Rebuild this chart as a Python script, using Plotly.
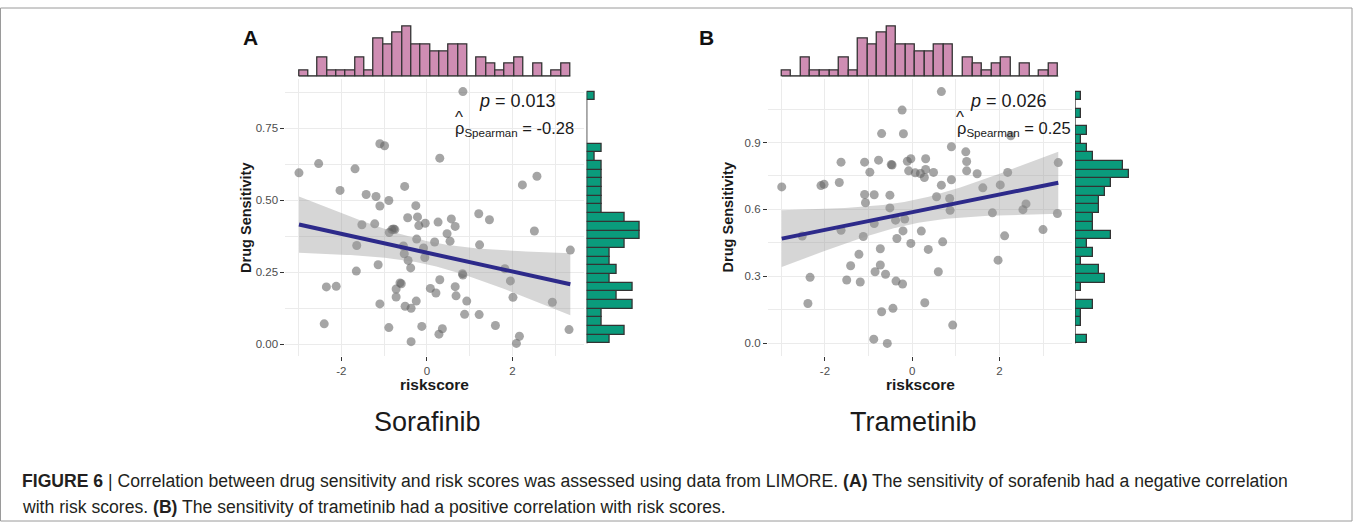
import numpy as np
import plotly.graph_objects as go

W, H = 1355, 523

# ---------------- data ----------------
riskscore_A = [0.84, -2.99, -2.53, -1.68, -1.10, -0.99, 0.30, -2.03, -1.42, -1.19, -1.10, -0.89, -0.52,
               -0.26, -0.45, -0.22, -0.19, -0.04, 0.26, 0.57, 0.66, 1.21, 1.46, 2.23, 2.57, 2.51, -1.52,
               -1.22, -0.82, -0.75, -0.88, -0.24, 0.18, 0.47, 0.54, -1.64, -0.55, -0.08, 1.23, -0.53,
               -0.44, -0.05, 3.35, -1.14, -1.65, -0.38, 0.83, 1.82, 0.30, -2.35, -2.12, -0.63, -0.72,
               0.08, 0.21, 0.66, 1.95, -0.72, 0.68, -1.10, -0.25, 0.93, 2.01, -0.51, -0.37, 2.93, 0.88,
               1.22, -2.40, -0.89, -0.12, 0.36, 0.28, 1.60, 2.16, 2.09, 3.32, -0.37, -0.78, 0.84, -0.60]
sensitivity_A = [0.877, 0.595, 0.627, 0.609, 0.696, 0.689, 0.646, 0.534, 0.520, 0.513, 0.480, 0.499, 0.548,
                 0.481, 0.439, 0.442, 0.412, 0.420, 0.424, 0.435, 0.409, 0.453, 0.432, 0.553, 0.583, 0.393,
                 0.415, 0.418, 0.398, 0.398, 0.388, 0.365, 0.355, 0.384, 0.358, 0.343, 0.341, 0.334, 0.345,
                 0.314, 0.291, 0.301, 0.327, 0.276, 0.254, 0.265, 0.245, 0.262, 0.224, 0.199, 0.201, 0.213,
                 0.192, 0.194, 0.178, 0.200, 0.220, 0.164, 0.168, 0.140, 0.150, 0.150, 0.163, 0.132, 0.125,
                 0.146, 0.104, 0.103, 0.071, 0.058, 0.062, 0.054, 0.035, 0.065, 0.028, 0.003, 0.051, 0.009,
                 0.400, 0.240, 0.210]

riskscore_B = [0.67, -0.23, -0.70, -0.20, 2.26, 0.90, 1.23, -1.63, -1.09, -0.77, -0.46, -0.48, -0.11, -0.03,
               0.31, 1.25, 3.35, -0.97, -0.08, 0.07, 0.19, 0.31, 0.49, 0.28, 1.25, 1.49, 2.19, -2.99, -2.09,
               -2.02, -1.67, 0.67, 0.90, 1.62, 2.02, -1.09, -0.87, -0.51, -1.07, -0.51, 0.56, 0.86, 0.87,
               2.61, 2.54, 1.84, 3.33, -0.87, -0.38, -0.17, -2.52, -1.63, -1.12, -0.21, -0.35, 0.21, -0.03,
               0.70, 2.12, 3.00, 0.37, -0.73, -1.22, 1.97, -1.41, -0.73, -2.34, -0.85, -0.61, 0.60, -1.50,
               -1.19, -0.37, -0.22, -2.39, 0.29, -0.70, -0.44, 0.93, -0.88, -0.57]
sensitivity_B = [1.128, 1.045, 0.940, 0.939, 0.930, 0.881, 0.858, 0.812, 0.812, 0.821, 0.799, 0.801, 0.816,
                 0.827, 0.827, 0.815, 0.810, 0.767, 0.773, 0.764, 0.761, 0.779, 0.766, 0.743, 0.773, 0.760,
                 0.766, 0.701, 0.707, 0.713, 0.721, 0.709, 0.733, 0.697, 0.710, 0.667, 0.666, 0.664, 0.630,
                 0.607, 0.657, 0.649, 0.596, 0.625, 0.599, 0.585, 0.582, 0.537, 0.552, 0.557, 0.481, 0.507,
                 0.479, 0.504, 0.470, 0.503, 0.448, 0.455, 0.482, 0.510, 0.421, 0.424, 0.399, 0.373, 0.348,
                 0.351, 0.296, 0.321, 0.310, 0.321, 0.284, 0.275, 0.279, 0.266, 0.179, 0.182, 0.142, 0.157,
                 0.082, 0.019, 0.000]

# marginal histogram counts (29 bins spanning the data range)
riskscore_hist_counts = [1, 0, 3, 1, 1, 1, 3, 1, 6, 5, 7, 8, 5, 5, 4, 4, 5, 5, 0, 3, 2, 1, 2, 3, 0, 2, 0, 1, 2]
sens_hist_counts_A = [3, 5, 2, 2, 6, 4, 6, 3, 4, 3, 3, 5, 7, 7, 5, 2, 2, 2, 2, 2, 2, 1, 2, 0, 0, 0, 0, 0, 1]
sens_hist_counts_B = [2, 0, 1, 1, 3, 0, 1, 5, 4, 1, 3, 2, 6, 3, 3, 4, 4, 5, 6, 9, 8, 3, 2, 1, 2, 0, 1, 0, 1]

drug_names = ["Sorafinib", "Trametinib"]
panel_labels = ["A", "B"]
p_values = ["0.013", "0.026"]
rho_values = ["-0.28", "0.25"]
y_ticks_A = [0, 0.25, 0.5, 0.75]
y_ticks_B = [0, 0.3, 0.6, 0.9]
x_ticks = [-2, 0, 2]

caption_1 = ("<b>FIGURE 6</b> | Correlation between drug sensitivity and risk scores was assessed using data from LIMORE. "
             "<b>(A)</b> The sensitivity of sorafenib had a negative correlation")
caption_2 = "with risk scores. <b>(B)</b> The sensitivity of trametinib had a positive correlation with risk scores."

# ---------------- helpers ----------------
FONT = "Liberation Sans, Arial, sans-serif"
PINK = "#cf8db3"
GREEN = "#0a9b7c"
EDGE = "#333333"
GRID = "#ebebeb"


def fx(px):
    return px / W


def fy(py):
    return 1 - py / H


def expand(v, m=0.05):
    lo, hi = min(v), max(v)
    s = hi - lo
    return [lo - m * s, hi + m * s]


def note(px, py, text, size, **kw):
    d = dict(x=fx(px), y=fy(py), xref="paper", yref="paper", text=text, showarrow=False,
             font=dict(family=FONT, size=size, color=kw.pop("color", "#1a1a1a")),
             xanchor=kw.pop("xanchor", "center"), yanchor="middle")
    d.update(kw)
    return d


fig = go.Figure()
annotations = []

panels = [
    dict(x=riskscore_A, y=sensitivity_A, hy=sens_hist_counts_A, yt=y_ticks_A, yfmt="{:.2f}", ydt=0.25,
         dom=(285.4, 583.9), rdom=(586.7, 642.6), ax=1),
    dict(x=riskscore_B, y=sensitivity_B, hy=sens_hist_counts_B, yt=y_ticks_B, yfmt="{:.1f}", ydt=0.3,
         dom=(767.9, 1072.1), rdom=(1075.0, 1131.7), ax=4),
]

layout_axes = {}
for i, P in enumerate(panels):
    a = P["ax"]
    xs, ys = np.array(P["x"]), np.array(P["y"])
    xr, yr = expand(P["x"]), expand(P["y"])
    main_x, main_y = f"x{'' if a == 1 else a}", f"y{'' if a == 1 else a}"
    top_x, top_y = f"x{a+1}", f"y{a+1}"
    rt_x, rt_y = f"x{a+2}", f"y{a+2}"
    xd = [fx(P["dom"][0]), fx(P["dom"][1])]
    yd = [fy(356), fy(79)]

    # scatter
    fig.add_trace(go.Scatter(x=xs, y=ys, mode="markers", xaxis=main_x, yaxis=main_y,
                             marker=dict(size=9, color="rgba(100,100,100,0.58)", line=dict(width=0)),
                             showlegend=False, hoverinfo="skip"))
    # linear fit with 95% CI
    n = len(xs)
    b1, b0 = np.polyfit(xs, ys, 1)
    gx = np.linspace(xs.min(), xs.max(), 80)
    gy = b0 + b1 * gx
    resid = ys - (b0 + b1 * xs)
    s = np.sqrt(np.sum(resid ** 2) / (n - 2))
    sxx = np.sum((xs - xs.mean()) ** 2)
    se = s * np.sqrt(1 / n + (gx - xs.mean()) ** 2 / sxx)
    tq = 1.99
    fig.add_trace(go.Scatter(x=np.concatenate([gx, gx[::-1]]),
                             y=np.concatenate([gy + tq * se, (gy - tq * se)[::-1]]),
                             fill="toself", fillcolor="rgba(153,153,153,0.4)", line=dict(width=0),
                             mode="lines", xaxis=main_x, yaxis=main_y, showlegend=False, hoverinfo="skip"))
    fig.add_trace(go.Scatter(x=gx, y=gy, mode="lines", line=dict(color="#2d2a8a", width=4),
                             xaxis=main_x, yaxis=main_y, showlegend=False, hoverinfo="skip"))

    # top histogram
    xe = np.linspace(xs.min(), xs.max(), len(riskscore_hist_counts) + 1)
    xw = xe[1] - xe[0]
    fig.add_trace(go.Bar(x=(xe[:-1] + xe[1:]) / 2, y=riskscore_hist_counts, width=xw,
                         marker=dict(color=PINK, line=dict(color=EDGE, width=1.3)),
                         xaxis=top_x, yaxis=top_y, showlegend=False, hoverinfo="skip"))
    fig.add_trace(go.Scatter(x=[xe[0], xe[-1]], y=[0, 0], mode="lines", line=dict(color=EDGE, width=1.3),
                             xaxis=top_x, yaxis=top_y, showlegend=False, hoverinfo="skip"))
    # right histogram
    ye = np.linspace(ys.min(), ys.max(), len(P["hy"]) + 1)
    yw = ye[1] - ye[0]
    fig.add_trace(go.Bar(y=(ye[:-1] + ye[1:]) / 2, x=P["hy"], width=yw, orientation="h",
                         marker=dict(color=GREEN, line=dict(color=EDGE, width=1.3)),
                         xaxis=rt_x, yaxis=rt_y, showlegend=False, hoverinfo="skip"))
    fig.add_trace(go.Scatter(x=[0, 0], y=[ye[0], ye[-1]], mode="lines", line=dict(color=EDGE, width=1.3),
                             xaxis=rt_x, yaxis=rt_y, showlegend=False, hoverinfo="skip"))

    k = "" if a == 1 else str(a)
    common_tick = dict(ticks="outside", ticklen=4, tickwidth=1.4, tickcolor="#333333",
                       tickfont=dict(family=FONT, size=11.5, color="#4d4d4d"),
                       showline=False, zeroline=False, gridcolor=GRID, gridwidth=1)
    layout_axes[f"xaxis{k}"] = dict(domain=xd, range=xr, tickvals=x_ticks,
                                    ticktext=[str(t) for t in x_ticks], anchor=main_y,
                                    minor=dict(dtick=1, tick0=0, showgrid=True, gridcolor=GRID, gridwidth=0.8),
                                    **common_tick)
    layout_axes[f"yaxis{k}"] = dict(domain=yd, range=yr, tickvals=P["yt"],
                                    ticktext=[P["yfmt"].format(t) for t in P["yt"]], anchor=main_x,
                                    minor=dict(dtick=P["ydt"] / 2, tick0=0, showgrid=True, gridcolor=GRID,
                                               gridwidth=0.8),
                                    **common_tick)
    hid = dict(visible=False, showgrid=False, zeroline=False)
    layout_axes[f"xaxis{a+1}"] = dict(domain=xd, range=xr, anchor=top_y, **hid)
    layout_axes[f"yaxis{a+1}"] = dict(domain=[fy(76.5), fy(23.5)],
                                      range=[0, max(riskscore_hist_counts) * 1.05], anchor=top_x, **hid)
    layout_axes[f"xaxis{a+2}"] = dict(domain=[fx(P["rdom"][0]), fx(P["rdom"][1])],
                                      range=[0, max(P["hy"]) * 1.05], anchor=rt_y, **hid)
    layout_axes[f"yaxis{a+2}"] = dict(domain=yd, range=yr, anchor=rt_x, **hid)

    cx = (P["dom"][0] + P["dom"][1]) / 2
    annotations.append(note(cx, 384, "<b>riskscore</b>", 15.5))
    annotations.append(note(P["dom"][0] - 40, 217.5, "<b>Drug Sensitivity</b>", 14.5, textangle=-90))
    annotations.append(note(cx - 7, 422, drug_names[i], 27))
    annotations.append(note([250, 706][i], 37.5, f"<b>{panel_labels[i]}</b>", 21, color="#111111"))
    annotations.append(note([517, 1008][i], 101, f"<i>p</i> = {p_values[i]}", 18))
    px_r = [453, 955][i]
    annotations.append(note(px_r, 128.5, f"ρ<sub>Spearman</sub> = {rho_values[i]}", 16.5, xanchor="left"))
    annotations.append(note(px_r + 5.5, 117.5, "^", 17))

annotations.append(note(20, 481, caption_1, 17.6, xanchor="left", color="#231f20"))
annotations.append(note(20, 507, caption_2, 17.6, xanchor="left", color="#231f20"))

fig.update_layout(
    width=W, height=H, margin=dict(l=0, r=0, t=0, b=0),
    paper_bgcolor="white", plot_bgcolor="rgba(0,0,0,0)",
    bargap=0, showlegend=False, annotations=annotations,
    shapes=[dict(type="rect", xref="paper", yref="paper", x0=fx(0.5), x1=fx(1352), y0=fy(8), y1=fy(521),
                 line=dict(color="#9a9a9a", width=1), fillcolor="rgba(0,0,0,0)", layer="below")],
    **layout_axes,
)

fig.write_html("out.html", config={"displayModeBar": False},
               post_script="document.body.style.margin='0';document.body.style.overflow='hidden';")
